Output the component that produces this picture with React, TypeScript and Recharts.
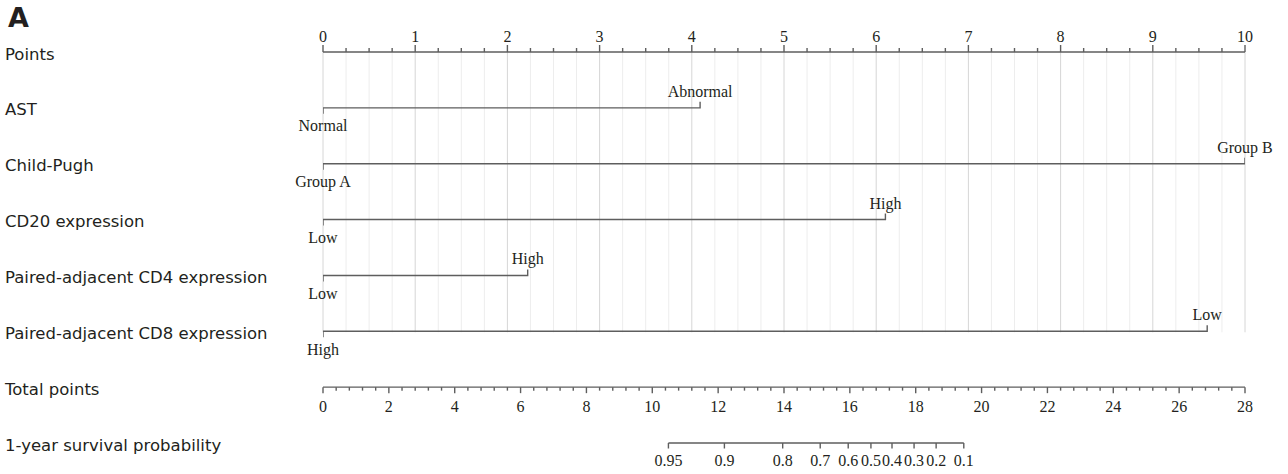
import React from 'react';
import { LineChart, Line, XAxis, YAxis, ReferenceLine, ReferenceDot } from 'recharts';

// ---------- data ----------
const rowNames = [
  'Points',
  'AST',
  'Child-Pugh',
  'CD20 expression',
  'Paired-adjacent CD4 expression',
  'Paired-adjacent CD8 expression',
  'Total points',
  '1-year survival probability',
];

const pointsMajorTicks = [0, 1, 2, 3, 4, 5, 6, 7, 8, 9, 10];
const pointsMinorStep = 0.25;

const totalMajorTicks = [0, 2, 4, 6, 8, 10, 12, 14, 16, 18, 20, 22, 24, 26, 28];
const totalMinorStep = 0.4;

const probLabels = ['0.95', '0.9', '0.8', '0.7', '0.6', '0.5', '0.4', '0.3', '0.2', '0.1'];
const probTotalPoints = [10.49, 12.19, 13.96, 15.1, 15.95, 16.64, 17.28, 17.95, 18.62, 19.46];

const variableRows = [1, 2, 3, 4, 5];
const variableLeftLabels = ['Normal', 'Group A', 'Low', 'Low', 'High'];
const variableRightLabels = ['Abnormal', 'Group B', 'High', 'High', 'Low'];
const variableRightPoints = [4.09, 10, 6.1, 2.22, 9.59];

// ---------- layout ----------
const W = 1288;
const H = 474;
const PLOT_TOP = 52;
const PLOT_BOTTOM = 443;
const PLOT_LEFT = 323;
const PLOT_RIGHT = 1245;
const ROW_PX = (PLOT_BOTTOM - PLOT_TOP) / 7;
const px = (p: number) => p / ROW_PX;

const LINE = '#5e5e5e';
const TEXT = '#231f20';
const SERIF = '"Liberation Serif", "Times New Roman", serif';
const SANS = '"DejaVu Sans", Verdana, sans-serif';

const range = (max: number, step: number) => {
  const out: number[] = [];
  const n = Math.round(max / step);
  for (let i = 0; i <= n; i++) out.push(+(i * step).toFixed(4));
  return out;
};
const pointsAllTicks = range(10, pointsMinorStep);
const totalAllTicks = range(28, totalMinorStep);

const isMajor = (v: number, majors: number[]) => majors.some((m) => Math.abs(m - v) < 1e-6);

const textShape =
  (label: string, dy: number, anchor: 'middle' | 'start' | 'end' = 'middle') =>
  (props: any) => (
    <text
      x={props.cx}
      y={props.cy + dy}
      textAnchor={anchor}
      fontFamily={SERIF}
      fontSize={16}
      fill={TEXT}
    >
      {label}
    </text>
  );

const RowLabel = (props: any) => {
  const { y, payload } = props;
  return (
    <text x={5} y={y + 7.5} textAnchor="start" fontFamily={SANS} fontSize={16.5} fill={TEXT}>
      {rowNames[payload.value]}
    </text>
  );
};

export default function App() {
  const bracketData = variableRows.map((row, i) => [
    { x: 0, y: row + px(6) },
    { x: 0, y: row },
    { x: variableRightPoints[i], y: row },
    { x: variableRightPoints[i], y: row - px(6) },
  ]);

  return (
    <div style={{ position: 'absolute', left: 0, top: 0, width: W, height: H, background: '#fff' }}>
      <div
        style={{
          position: 'absolute',
          left: 8,
          top: 3,
          fontFamily: SANS,
          fontWeight: 'bold',
          fontSize: 27,
          color: TEXT,
          lineHeight: '30px',
        }}
      >
        A
      </div>
      <LineChart
        width={W}
        height={H}
        margin={{ top: PLOT_TOP, right: W - PLOT_RIGHT, bottom: H - PLOT_BOTTOM, left: 0 }}
      >
        <XAxis xAxisId="pts" type="number" dataKey="x" domain={[0, 10]} hide allowDataOverflow />
        <XAxis xAxisId="total" type="number" dataKey="x" domain={[0, 28]} hide allowDataOverflow />
        <YAxis
          type="number"
          domain={[0, 7]}
          reversed
          ticks={[0, 1, 2, 3, 4, 5, 6, 7]}
          width={PLOT_LEFT}
          axisLine={false}
          tickLine={false}
          tick={<RowLabel />}
          interval={0}
          allowDataOverflow
        />

        {/* vertical grid */}
        {pointsAllTicks.map((v) => (
          <ReferenceLine
            key={'g' + v}
            xAxisId="pts"
            segment={[
              { x: v, y: 0 },
              { x: v, y: 5 + px(1) },
            ]}
            stroke={isMajor(v, pointsMajorTicks) ? '#d6d6d6' : '#ededed'}
            strokeWidth={1}
            ifOverflow="visible"
          />
        ))}

        {/* Points axis */}
        <ReferenceLine
          xAxisId="pts"
          segment={[
            { x: 0, y: 0 },
            { x: 10, y: 0 },
          ]}
          stroke={LINE}
          strokeWidth={1.4}
          ifOverflow="visible"
        />
        {pointsAllTicks.map((v) => (
          <ReferenceLine
            key={'pt' + v}
            xAxisId="pts"
            segment={[
              { x: v, y: 0 },
              { x: v, y: -px(isMajor(v, pointsMajorTicks) ? 7 : 4) },
            ]}
            stroke={LINE}
            strokeWidth={1.4}
            ifOverflow="visible"
          />
        ))}
        {pointsMajorTicks.map((v) => (
          <ReferenceDot
            key={'pl' + v}
            xAxisId="pts"
            x={v}
            y={0}
            r={0}
            ifOverflow="visible"
            shape={textShape(String(v), -10.5)}
          />
        ))}

        {/* Total points axis */}
        <ReferenceLine
          xAxisId="total"
          segment={[
            { x: 0, y: 6 },
            { x: 28, y: 6 },
          ]}
          stroke={LINE}
          strokeWidth={1.4}
          ifOverflow="visible"
        />
        {totalAllTicks.map((v) => (
          <ReferenceLine
            key={'tt' + v}
            xAxisId="total"
            segment={[
              { x: v, y: 6 },
              { x: v, y: 6 + px(isMajor(v, totalMajorTicks) ? 6 : 3.5) },
            ]}
            stroke={LINE}
            strokeWidth={1.4}
            ifOverflow="visible"
          />
        ))}
        {totalMajorTicks.map((v) => (
          <ReferenceDot
            key={'tl' + v}
            xAxisId="total"
            x={v}
            y={6}
            r={0}
            ifOverflow="visible"
            shape={textShape(String(v), 25)}
          />
        ))}

        {/* Survival probability axis */}
        <ReferenceLine
          xAxisId="total"
          segment={[
            { x: probTotalPoints[0], y: 7 },
            { x: probTotalPoints[probTotalPoints.length - 1], y: 7 },
          ]}
          stroke={LINE}
          strokeWidth={1.4}
          ifOverflow="visible"
        />
        {probTotalPoints.map((v, i) => (
          <ReferenceLine
            key={'pp' + i}
            xAxisId="total"
            segment={[
              { x: v, y: 7 },
              { x: v, y: 7 + px(5.5) },
            ]}
            stroke={LINE}
            strokeWidth={1.4}
            ifOverflow="visible"
          />
        ))}
        {probTotalPoints.map((v, i) => (
          <ReferenceDot
            key={'ppl' + i}
            xAxisId="total"
            x={v}
            y={7}
            r={0}
            ifOverflow="visible"
            shape={textShape(probLabels[i], 23)}
          />
        ))}

        {/* variable brackets */}
        {bracketData.map((d, i) => (
          <Line
            key={'v' + i}
            xAxisId="pts"
            data={d}
            dataKey="y"
            type="linear"
            stroke={LINE}
            strokeWidth={1.4}
            dot={false}
            activeDot={false}
            isAnimationActive={false}
          />
        ))}
        {variableRows.map((row, i) => (
          <ReferenceDot
            key={'ll' + i}
            xAxisId="pts"
            x={0}
            y={row}
            r={0}
            ifOverflow="visible"
            shape={textShape(variableLeftLabels[i], 23.5)}
          />
        ))}
        {variableRows.map((row, i) => (
          <ReferenceDot
            key={'rl' + i}
            xAxisId="pts"
            x={variableRightPoints[i]}
            y={row}
            r={0}
            ifOverflow="visible"
            shape={textShape(variableRightLabels[i], -11)}
          />
        ))}
      </LineChart>
    </div>
  );
}
